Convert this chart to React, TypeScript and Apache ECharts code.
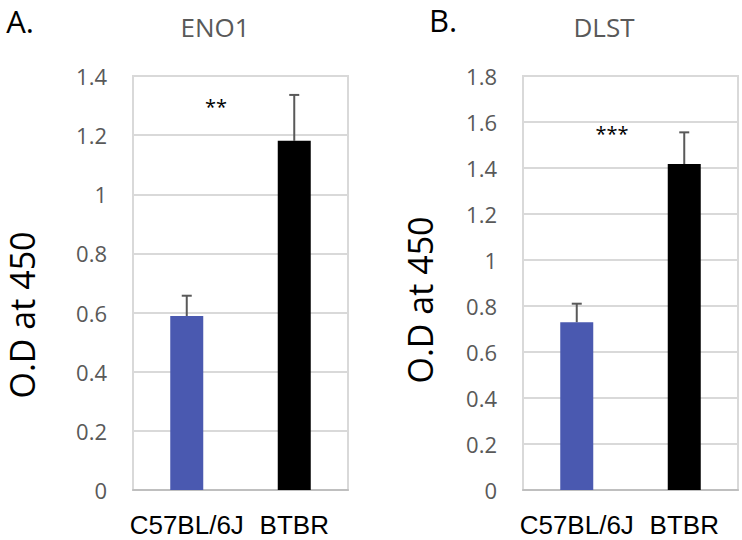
import React, { useEffect, useRef } from "react";
import * as echarts from "echarts";

const categories = ["C57BL/6J", "BTBR"];
const eno1Means = [0.588, 1.181];
const eno1Errors = [0.069, 0.155];
const dlstMeans = [0.729, 1.417];
const dlstErrors = [0.081, 0.138];
const barColors = ["#4a59b0", "#000000"];
const eno1Ticks = { min: 0, max: 1.4, interval: 0.2 };
const dlstTicks = { min: 0, max: 1.8, interval: 0.2 };

const GRAY = "#595959";

function errorSeries(means: number[], errs: number[], idx: number) {
  return {
    type: "custom",
    xAxisIndex: idx,
    yAxisIndex: idx,
    z: 1,
    data: means.map((m, i) => [i, m, m + errs[i]]),
    renderItem: (params: any, api: any) => {
      const base = api.coord([api.value(0), api.value(1)]);
      const top = api.coord([api.value(0), api.value(2)]);
      const half = 5;
      const style = { stroke: GRAY, lineWidth: 2 };
      return {
        type: "group",
        children: [
          { type: "line", shape: { x1: base[0], y1: base[1], x2: top[0], y2: top[1] }, style },
          { type: "line", shape: { x1: top[0] - half, y1: top[1], x2: top[0] + half, y2: top[1] }, style },
        ],
      };
    },
  };
}

export default function App() {
  const ref = useRef<HTMLDivElement>(null);
  useEffect(() => {
    document.body.style.margin = "0";
    const chart = echarts.init(ref.current!, null, { renderer: "svg" });
    const grids = [
      { left: 133, top: 76, width: 215, height: 414 },
      { left: 523, top: 76, width: 215, height: 414 },
    ];
    const xAxis = [0, 1].map((i) => ({
      type: "category",
      gridIndex: i,
      data: categories,
      axisTick: { show: false },
      axisLine: { lineStyle: { color: "#bfbfbf", width: 2 } },
      axisLabel: { color: "#000", fontSize: 26, fontFamily: "Liberation Sans", margin: 22, interval: 0 },
    }));
    const yAxis = [eno1Ticks, dlstTicks].map((t, i) => ({
      type: "value",
      gridIndex: i,
      min: t.min,
      max: t.max,
      interval: t.interval,
      axisLine: { show: false },
      axisTick: { show: false },
      splitLine: { lineStyle: { color: "#d9d9d9", width: 2 } },
      axisLabel: {
        color: GRAY,
        fontSize: 22,
        fontFamily: "Open Sans",
        margin: 26,
        formatter: (v: number) => String(parseFloat(v.toFixed(1))),
      },
    }));
    const barSeries = (means: number[], idx: number) => ({
      type: "bar",
      xAxisIndex: idx,
      yAxisIndex: idx,
      barWidth: 33,
      z: 2,
      data: means.map((m, i) => ({ value: m, itemStyle: { color: barColors[i] } })),
    });
    const txt = (text: string, x: number, y: number, size: number, color: string, extra: any = {}) => ({
      type: "text",
      x,
      y,
      ...extra,
      style: {
        text,
        fontSize: size,
        fill: color,
        fontFamily: "Open Sans",
        align: "center",
        verticalAlign: "middle",
      },
    });
    chart.setOption({
      animation: false,
      grid: grids,
      xAxis,
      yAxis,
      series: [
        barSeries(eno1Means, 0),
        errorSeries(eno1Means, eno1Errors, 0),
        barSeries(dlstMeans, 1),
        errorSeries(dlstMeans, dlstErrors, 1),
      ],
      graphic: [
        { type: "rect", shape: { x: 133, y: 76, width: 215, height: 414 }, style: { fill: "none", stroke: "#d9d9d9", lineWidth: 2 }, z: -1 },
        { type: "rect", shape: { x: 523, y: 76, width: 215, height: 414 }, style: { fill: "none", stroke: "#d9d9d9", lineWidth: 2 }, z: -1 },
        txt("A.", 20, 21, 31, "#000"),
        txt("B.", 443, 20, 31, "#000"),
        txt("ENO1", 215, 27, 26, GRAY),
        txt("DLST", 604, 27, 26, GRAY),
        txt("O.D at 450", 22, 315, 34, "#000", { rotation: Math.PI / 2 }),
        txt("O.D at 450", 420, 300, 34, "#000", { rotation: Math.PI / 2 }),
        txt("**", 216, 106, 20, "#000"),
        txt("***", 612, 133, 20, "#000"),
      ],
    });
    return () => chart.dispose();
  }, []);
  return <div ref={ref} style={{ width: 742, height: 540 }} />;
}
